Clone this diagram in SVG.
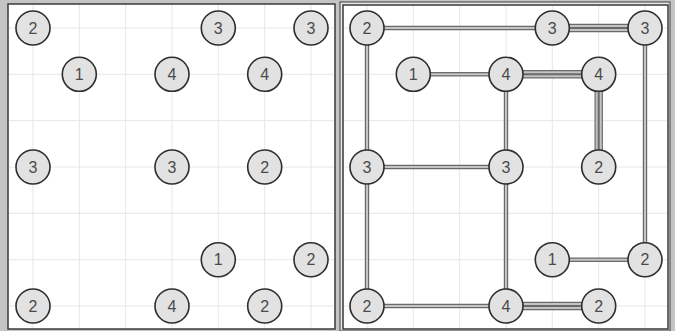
<svg xmlns="http://www.w3.org/2000/svg" width="675" height="331" viewBox="0 0 675 331">
<style>
.bg{fill:#c4c4c4}
.panel{fill:#ffffff;stroke:#3a3a3a;stroke-width:1.5}
.grid{stroke:#e6e6e6;stroke-width:1;fill:none}
.n circle{fill:#e2e2e2;stroke:#2e2e2e;stroke-width:1.6}
.n text{font-family:"Liberation Sans",Arial,sans-serif;font-size:16px;fill:#4a4a4a;text-anchor:middle;dominant-baseline:central}
.bo{stroke:#6a6a6a;stroke-width:4.4;fill:none}
.bi{stroke:#c4c4c4;stroke-width:2;fill:none}
</style>
<rect class="bg" x="0" y="0" width="675" height="331"/>
<rect class="panel" x="8" y="4" width="327" height="325"/>
<rect x="340" y="2" width="330" height="329" fill="#e8e8e8" stroke="#555" stroke-width="1.2"/>
<rect class="panel" x="343" y="5" width="325" height="324"/>
<g id="grid">
<path class="grid" d="M33 5V328M79.3 5V328M125.7 5V328M172 5V328M218.3 5V328M264.7 5V328M311 5V328M9 28H334M9 74.3H334M9 120.7H334M9 167H334M9 213.3H334M9 259.7H334M9 306H334"/>
<path class="grid" d="M367 6V328M413.3 6V328M459.7 6V328M506 6V328M552.3 6V328M598.7 6V328M645 6V328M344 28H667M344 74.3H667M344 120.7H667M344 167H667M344 213.3H667M344 259.7H667M344 306H667"/>
</g>
<g id="connectors">
<path class="bo" d="M367 28H552.3M367 28V167M645 28V259.7M413.3 74.3H506M506 74.3V167M367 167H506M367 167V306M506 167V306M552.3 259.7H645M367 306H506"/>
<path class="bi" d="M367 28H552.3M367 28V167M645 28V259.7M413.3 74.3H506M506 74.3V167M367 167H506M367 167V306M506 167V306M552.3 259.7H645M367 306H506"/>
<path class="bo" d="M552.3 26H645M552.3 30H645M506 72.3H598.7M506 76.3H598.7M596.7 74.3V167M600.7 74.3V167M506 304H598.7M506 308H598.7"/>
<path class="bi" d="M552.3 26H645M552.3 30H645M506 72.3H598.7M506 76.3H598.7M596.7 74.3V167M600.7 74.3V167M506 304H598.7M506 308H598.7"/>
</g>
<g id="L00" class="n"><circle cx="33" cy="28" r="17"/><text x="33" y="28">2</text></g>
<g id="L40" class="n"><circle cx="218.3" cy="28" r="17"/><text x="218.3" y="28">3</text></g>
<g id="L60" class="n"><circle cx="311" cy="28" r="17"/><text x="311" y="28">3</text></g>
<g id="L11" class="n"><circle cx="79.3" cy="74.3" r="17"/><text x="79.3" y="74.3">1</text></g>
<g id="L31" class="n"><circle cx="172" cy="74.3" r="17"/><text x="172" y="74.3">4</text></g>
<g id="L51" class="n"><circle cx="264.7" cy="74.3" r="17"/><text x="264.7" y="74.3">4</text></g>
<g id="L03" class="n"><circle cx="33" cy="167" r="17"/><text x="33" y="167">3</text></g>
<g id="L33" class="n"><circle cx="172" cy="167" r="17"/><text x="172" y="167">3</text></g>
<g id="L53" class="n"><circle cx="264.7" cy="167" r="17"/><text x="264.7" y="167">2</text></g>
<g id="L45" class="n"><circle cx="218.3" cy="259.7" r="17"/><text x="218.3" y="259.7">1</text></g>
<g id="L65" class="n"><circle cx="311" cy="259.7" r="17"/><text x="311" y="259.7">2</text></g>
<g id="L06" class="n"><circle cx="33" cy="306" r="17"/><text x="33" y="306">2</text></g>
<g id="L36" class="n"><circle cx="172" cy="306" r="17"/><text x="172" y="306">4</text></g>
<g id="L56" class="n"><circle cx="264.7" cy="306" r="17"/><text x="264.7" y="306">2</text></g>
<g id="R00" class="n"><circle cx="367" cy="28" r="17"/><text x="367" y="28">2</text></g>
<g id="R40" class="n"><circle cx="552.3" cy="28" r="17"/><text x="552.3" y="28">3</text></g>
<g id="R60" class="n"><circle cx="645" cy="28" r="17"/><text x="645" y="28">3</text></g>
<g id="R11" class="n"><circle cx="413.3" cy="74.3" r="17"/><text x="413.3" y="74.3">1</text></g>
<g id="R31" class="n"><circle cx="506" cy="74.3" r="17"/><text x="506" y="74.3">4</text></g>
<g id="R51" class="n"><circle cx="598.7" cy="74.3" r="17"/><text x="598.7" y="74.3">4</text></g>
<g id="R03" class="n"><circle cx="367" cy="167" r="17"/><text x="367" y="167">3</text></g>
<g id="R33" class="n"><circle cx="506" cy="167" r="17"/><text x="506" y="167">3</text></g>
<g id="R53" class="n"><circle cx="598.7" cy="167" r="17"/><text x="598.7" y="167">2</text></g>
<g id="R45" class="n"><circle cx="552.3" cy="259.7" r="17"/><text x="552.3" y="259.7">1</text></g>
<g id="R65" class="n"><circle cx="645" cy="259.7" r="17"/><text x="645" y="259.7">2</text></g>
<g id="R06" class="n"><circle cx="367" cy="306" r="17"/><text x="367" y="306">2</text></g>
<g id="R36" class="n"><circle cx="506" cy="306" r="17"/><text x="506" y="306">4</text></g>
<g id="R56" class="n"><circle cx="598.7" cy="306" r="17"/><text x="598.7" y="306">2</text></g>
</svg>
